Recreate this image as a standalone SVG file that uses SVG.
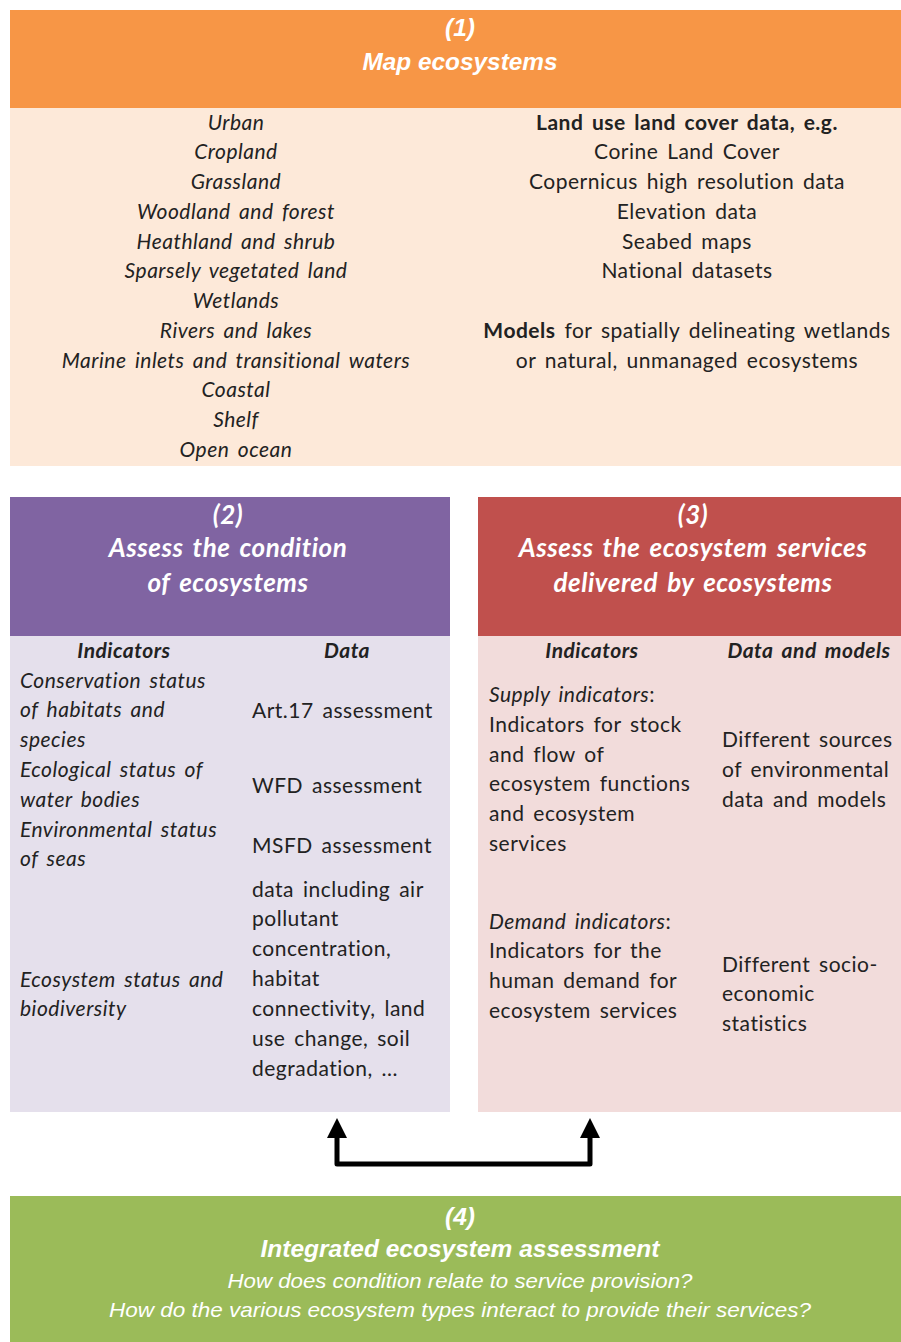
<svg xmlns="http://www.w3.org/2000/svg" width="901" height="1342" viewBox="0 0 901 1342">
<defs>
<style>
.t{font-family:Lato,"Open Sans","DejaVu Sans",sans-serif;font-size:21px;letter-spacing:0.5px;word-spacing:3px;fill:#222;}
.i{font-style:italic;}
.b{font-weight:bold;}
.c{text-anchor:middle;}
.h{font-family:Lato,"Open Sans",sans-serif;font-size:26px;letter-spacing:0.5px;word-spacing:3px;font-weight:bold;font-style:italic;fill:#fff;text-anchor:middle;}
.hc{font-family:"Liberation Sans",Arial,sans-serif;font-weight:bold;font-style:italic;fill:#fff;text-anchor:middle;}
.qc{font-family:"Liberation Sans",Arial,sans-serif;font-style:italic;fill:#fff;text-anchor:middle;font-size:21px;}
</style>
<marker id="ah" markerUnits="userSpaceOnUse" viewBox="0 0 20 20" markerWidth="20" markerHeight="20" refX="0" refY="10" orient="auto-start-reverse">
<path d="M0,0 L20,10 L0,20 z" fill="#000"/>
</marker>
</defs>
<rect width="901" height="1342" fill="#fff"/>

<g id="node1">
<rect x="10" y="10" width="891" height="98" fill="#F79646"/>
<rect x="10" y="108" width="891" height="358" fill="#FDE9D9"/>
<text class="hc" x="460" y="36" font-size="24" textLength="30" lengthAdjust="spacingAndGlyphs">(1)</text>
<text class="hc" x="460" y="70" font-size="24" textLength="195" lengthAdjust="spacingAndGlyphs">Map ecosystems</text>
<g class="t i c">
<text x="236" y="130">Urban</text>
<text x="236" y="159">Cropland</text>
<text x="236" y="189">Grassland</text>
<text x="236" y="219">Woodland and forest</text>
<text x="236" y="249">Heathland and shrub</text>
<text x="236" y="278">Sparsely vegetated land</text>
<text x="236" y="308">Wetlands</text>
<text x="236" y="338">Rivers and lakes</text>
<text x="236" y="368">Marine inlets and transitional waters</text>
<text x="236" y="397">Coastal</text>
<text x="236" y="427">Shelf</text>
<text x="236" y="457">Open ocean</text>
</g>
<g class="t c">
<text x="687" y="130" class="b">Land use land cover data, e.g.</text>
<text x="687" y="159">Corine Land Cover</text>
<text x="687" y="189">Copernicus high resolution data</text>
<text x="687" y="219">Elevation data</text>
<text x="687" y="249">Seabed maps</text>
<text x="687" y="278">National datasets</text>
<text x="687" y="338"><tspan font-weight="bold">Models</tspan> for spatially delineating wetlands</text>
<text x="687" y="368">or natural, unmanaged ecosystems</text>
</g>
</g>

<g id="node2">
<rect x="10" y="497" width="440" height="139" fill="#8064A2"/>
<rect x="10" y="636" width="440" height="476" fill="#E5E0EC"/>
<text class="h" x="228" y="524">(2)</text>
<text class="h" x="228" y="557">Assess the condition</text>
<text class="h" x="228" y="592">of ecosystems</text>
<text class="t b i c" x="124" y="658">Indicators</text>
<text class="t b i c" x="347" y="658">Data</text>
<g class="t i">
<text x="20" y="688">Conservation status</text>
<text x="20" y="717">of habitats and</text>
<text x="20" y="747">species</text>
<text x="20" y="777">Ecological status of</text>
<text x="20" y="807">water bodies</text>
<text x="20" y="837">Environmental status</text>
<text x="20" y="866">of seas</text>
<text x="20" y="987">Ecosystem status and</text>
<text x="20" y="1016">biodiversity</text>
</g>
<g class="t">
<text x="252" y="718">Art.17 assessment</text>
<text x="252" y="793">WFD assessment</text>
<text x="252" y="853">MSFD assessment</text>
<text x="252" y="897">data including air</text>
<text x="252" y="926">pollutant</text>
<text x="252" y="956">concentration,</text>
<text x="252" y="986">habitat</text>
<text x="252" y="1016">connectivity, land</text>
<text x="252" y="1046">use change, soil</text>
<text x="252" y="1076">degradation, ...</text>
</g>
</g>

<g id="node3">
<rect x="478" y="497" width="423" height="139" fill="#C0504D"/>
<rect x="478" y="636" width="423" height="476" fill="#F2DCDB"/>
<text class="h" x="693" y="524">(3)</text>
<text class="h" x="693" y="557">Assess the ecosystem services</text>
<text class="h" x="693" y="592">delivered by ecosystems</text>
<text class="t b i c" x="592" y="658">Indicators</text>
<text class="t b i c" x="809" y="658">Data and models</text>
<g class="t">
<text x="489" y="702"><tspan font-style="italic">Supply indicators</tspan>:</text>
<text x="489" y="732">Indicators for stock</text>
<text x="489" y="762">and flow of</text>
<text x="489" y="791">ecosystem functions</text>
<text x="489" y="821">and ecosystem</text>
<text x="489" y="851">services</text>
<text x="489" y="929"><tspan font-style="italic">Demand indicators</tspan>:</text>
<text x="489" y="958">Indicators for the</text>
<text x="489" y="988">human demand for</text>
<text x="489" y="1018">ecosystem services</text>
<text x="722" y="747">Different sources</text>
<text x="722" y="777">of environmental</text>
<text x="722" y="807">data and models</text>
<text x="722" y="972">Different socio-</text>
<text x="722" y="1001">economic</text>
<text x="722" y="1031">statistics</text>
</g>
</g>

<g id="connectors">
<path d="M337,1138 V1164 H590 V1138" fill="none" stroke="#000" stroke-width="5" stroke-linejoin="round" marker-start="url(#ah)" marker-end="url(#ah)"/>
</g>

<g id="node4">
<rect x="10" y="1196" width="891" height="146" fill="#9BBB59"/>
<text class="hc" x="460" y="1225" font-size="24" textLength="30" lengthAdjust="spacingAndGlyphs">(4)</text>
<text class="hc" x="460" y="1257" font-size="24" textLength="399" lengthAdjust="spacingAndGlyphs">Integrated ecosystem assessment</text>
<text class="qc" x="460" y="1288" textLength="465" lengthAdjust="spacingAndGlyphs">How does condition relate to service provision?</text>
<text class="qc" x="460" y="1317" textLength="702" lengthAdjust="spacingAndGlyphs">How do the various ecosystem types interact to provide their services?</text>
</g>
</svg>
